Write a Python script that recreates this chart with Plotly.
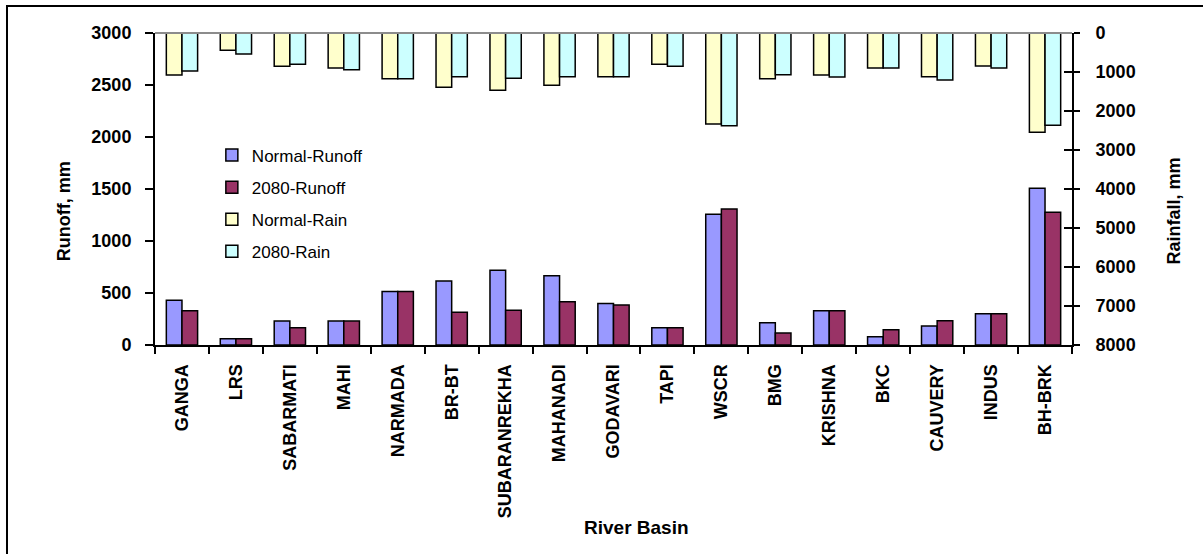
import plotly.graph_objects as go

# River basins along the x axis
basins = ["GANGA", "LRS", "SABARMATI", "MAHI", "NARMADA", "BR-BT", "SUBARANREKHA",
          "MAHANADI", "GODAVARI", "TAPI", "WSCR", "BMG", "KRISHNA", "BKC",
          "CAUVERY", "INDUS", "BH-BRK"]

# Runoff (mm), left axis
normal_runoff = [430, 60, 230, 230, 515, 615, 718, 667, 400, 165, 1257, 215, 330, 80, 183, 300, 1507]
runoff_2080 = [330, 60, 165, 230, 515, 314, 334, 417, 385, 165, 1308, 115, 330, 147, 234, 300, 1276]

# Rainfall (mm), right axis (reversed, hanging from the top)
normal_rain = [1077, 444, 855, 897, 1171, 1393, 1470, 1342, 1120, 803, 2333, 1171, 1077, 897, 1120, 846, 2547]
rain_2080 = [974, 538, 803, 940, 1171, 1120, 1162, 1120, 1120, 855, 2376, 1068, 1128, 897, 1205, 897, 2368]

FONT = "Liberation Sans, Arial, sans-serif"
BAR_W = 0.29
OUTLINE = dict(color="black", width=1.5)

fig = go.Figure()

series = [
    ("Normal-Runoff", normal_runoff, "#9999FF", "y", -BAR_W),
    ("2080-Runoff", runoff_2080, "#993366", "y", 0.0),
    ("Normal-Rain", normal_rain, "#FFFFCC", "y2", -BAR_W),
    ("2080-Rain", rain_2080, "#CCFFFF", "y2", 0.0),
]
for name, vals, color, yax, off in series:
    fig.add_trace(go.Bar(
        x=basins, y=vals, name=name, yaxis=yax,
        width=BAR_W, offset=off,
        marker=dict(color=color, line=OUTLINE),
        legendgroup=name,
    ))

fig.update_layout(
    width=1203, height=554,
    margin=dict(l=155, r=131, t=33, b=209),
    paper_bgcolor="white", plot_bgcolor="white",
    barmode="overlay",
    font=dict(family=FONT, color="black"),
    showlegend=True,
    legend=dict(
        x=0.062, y=0.665, xanchor="left", yanchor="top",
        font=dict(size=17, family=FONT, color="black"),
        bgcolor="rgba(0,0,0,0)", traceorder="grouped", tracegroupgap=7,
        itemwidth=30,
    ),
    xaxis=dict(
        type="category", showgrid=False, showline=True, linecolor="black", linewidth=2,
        ticks="outside", ticklen=7, tickwidth=2, tickcolor="black", tickson="boundaries",
        tickangle=-90, tickfont=dict(size=18, family=FONT, color="black", weight="bold"),
        ticklabelstandoff=10,
    ),
    yaxis=dict(
        range=[0, 3000], dtick=500, showgrid=False, zeroline=False,
        showline=True, linecolor="black", linewidth=2,
        ticks="outside", ticklen=8, tickwidth=2, tickcolor="black",
        tickfont=dict(size=18, family=FONT, color="black", weight="bold"),
        ticklabelstandoff=10,
    ),
    yaxis2=dict(
        range=[8000, 0], dtick=1000, overlaying="y", side="right",
        showgrid=False, zeroline=False, showline=True, linecolor="black", linewidth=2,
        ticks="outside", ticklen=6, tickwidth=2, tickcolor="black",
        tickfont=dict(size=18, family=FONT, color="black", weight="bold"),
        ticklabelstandoff=12,
    ),
    yaxis3=dict(
        range=[8000, 0], dtick=1000, overlaying="y", side="right",
        showgrid=False, zeroline=False, showline=False,
        ticks="inside", ticklen=8, tickwidth=2, tickcolor="black",
        showticklabels=False,
    ),
    shapes=[
        # gray top edge of the plot area
        dict(type="line", xref="paper", yref="paper", x0=0, x1=1, y0=1, y1=1,
             line=dict(color="#8c8c8c", width=2)),
        # chart frame
        dict(type="rect", xref="paper", yref="paper", x0=-0.1614, x1=1.3, y0=-1.0, y1=1.0865,
             line=dict(color="black", width=2), fillcolor="rgba(0,0,0,0)", layer="below"),
    ],
    annotations=[
        dict(text="<b>Runoff, mm</b>", xref="paper", yref="paper", x=-0.113, y=0.43,
             textangle=-90, showarrow=False, font=dict(size=18, family=FONT, color="black")),
        dict(text="<b>Rainfall, mm</b>", xref="paper", yref="paper", x=1.124, y=0.43,
             textangle=-90, showarrow=False, font=dict(size=18, family=FONT, color="black")),
        dict(text="<b>River Basin</b>", xref="paper", yref="paper", x=0.5255, y=-0.625,
             showarrow=False, font=dict(size=19, family=FONT, color="black")),
    ],
)

# invisible trace so the inside ticks of the right axis are drawn
fig.add_trace(go.Bar(x=basins, y=[0] * len(basins), yaxis="y3", showlegend=False,
                     hoverinfo="skip", marker=dict(color="rgba(0,0,0,0)")))

fig.write_html("out.html")
